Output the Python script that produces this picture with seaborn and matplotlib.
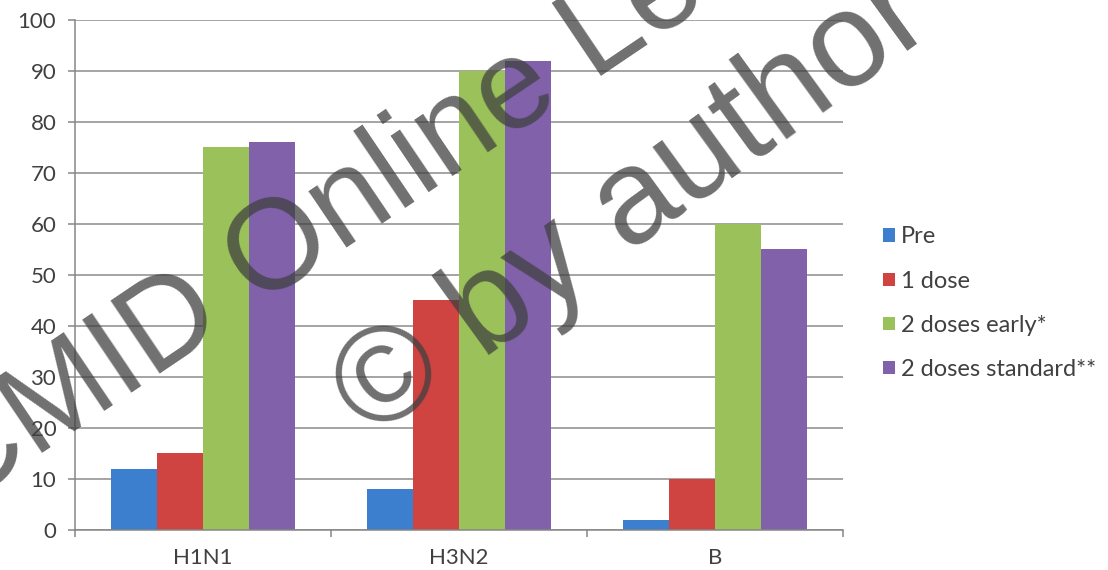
import matplotlib
matplotlib.use('Agg')
import matplotlib.pyplot as plt
import seaborn as sns
import pandas as pd

# ---- data ----
strains = ['H1N1', 'H3N2', 'B']
groups = ['Pre', '1 dose', '2 doses early*', '2 doses standard**']
pre = [12, 8, 2]
one_dose = [15, 45, 10]
two_early = [75, 90, 60]
two_standard = [76, 92, 55]
yticks = [0, 10, 20, 30, 40, 50, 60, 70, 80, 90, 100]
colors = ['#3d7fcf', '#cf4340', '#9bc25a', '#8061aa']

sns.set_theme(style='white')
plt.rcParams['font.family'] = ['Lato', 'DejaVu Sans']

rows = []
for g, vals in zip(groups, [pre, one_dose, two_early, two_standard]):
    for s, v in zip(strains, vals):
        rows.append({'strain': s, 'group': g, 'value': v})
df = pd.DataFrame(rows)

fig = plt.figure(figsize=(11.08, 5.70), dpi=100)
ax = fig.add_axes([0.0677, 0.0702, 0.6931, 0.8948])

sns.barplot(data=df, x='strain', y='value', hue='group', order=strains,
            hue_order=groups, palette=colors, width=0.72, saturation=1,
            linewidth=0, ax=ax)

ax.set_xlim(-0.5, 2.5)
ax.set_ylim(0, 100)
ax.set_yticks(yticks)
ax.set_xlabel('')
ax.set_ylabel('')
ax.set_axisbelow(True)
ax.yaxis.grid(True, color='#8c8c8c', linewidth=1.1)
ax.xaxis.grid(False)

for side in ['top', 'right']:
    ax.spines[side].set_visible(False)
for side in ['left', 'bottom']:
    ax.spines[side].set_color('#868686')
    ax.spines[side].set_linewidth(1.1)

ax.tick_params(axis='y', direction='out', length=5, width=1.1, color='#868686',
               pad=8.5, labelsize=16, labelcolor='#404040', left=True)
ax.set_xticks([0, 1, 2])
ax.set_xticklabels(strains)
ax.set_xticks([-0.5, 0.5, 1.5, 2.5], minor=True)
ax.tick_params(axis='x', which='major', length=0, pad=13, labelsize=16,
               labelcolor='#404040')
ax.tick_params(axis='x', which='minor', direction='out', length=5, width=1.1,
               color='#868686', bottom=True)

handles, labels = ax.get_legend_handles_labels()
ax.get_legend().remove()
fig.legend(handles, labels, loc='center left', bbox_to_anchor=(0.797, 0.468),
           frameon=False, fontsize=17, labelcolor='#404040',
           handlelength=0.5, handleheight=0.5, handletextpad=0.25,
           labelspacing=0.985, borderpad=0, borderaxespad=0)

# watermark overlay
fig.text(-0.0386, 0.1046, 'CMID Online Le', rotation=34, rotation_mode='anchor',
         ha='left', va='baseline', fontsize=92, family='Liberation Sans',
         color='#404040', alpha=0.75, zorder=10)
fig.text(0.3357, 0.2277, '\u00a9 by author', rotation=36, rotation_mode='anchor',
         ha='left', va='baseline', fontsize=97, family='Liberation Sans',
         color='#404040', alpha=0.75, zorder=10)

fig.savefig('out.png', dpi=100)
